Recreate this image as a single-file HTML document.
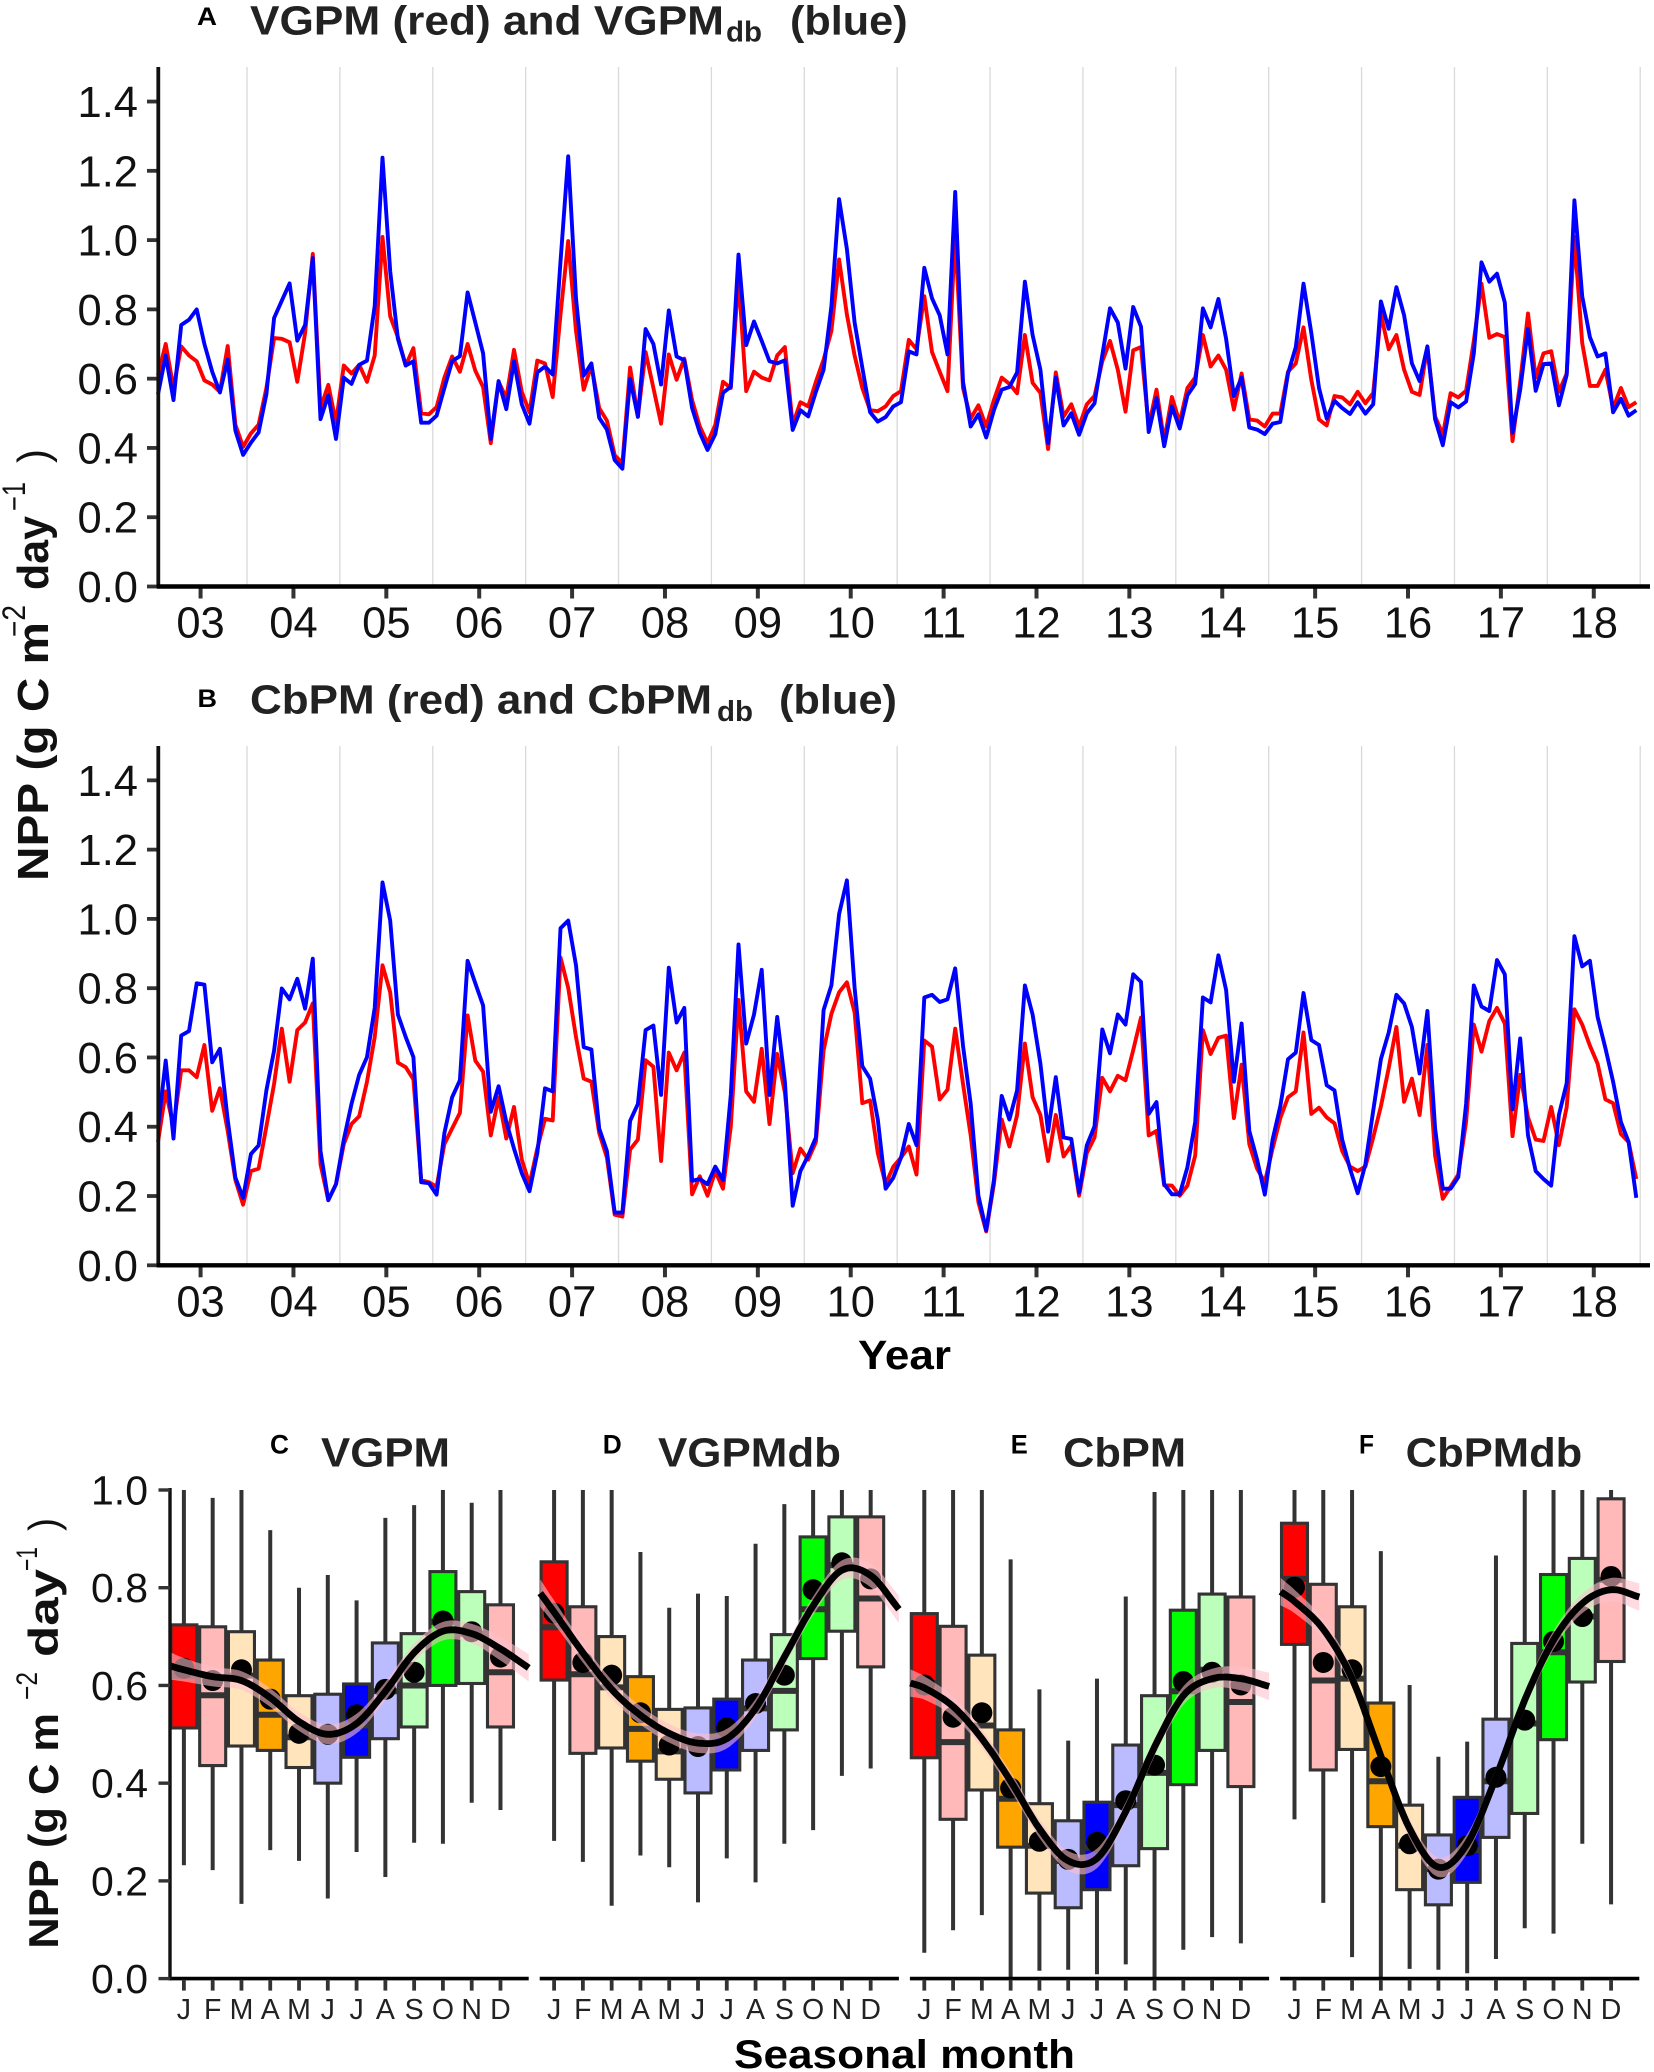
<!DOCTYPE html>
<html lang="en">
<head>
<meta charset="utf-8">
<title>NPP time series and seasonal climatology</title>
<style>
html,body{margin:0;padding:0;background:#fff;}
svg{display:block;font-family:"Liberation Sans",sans-serif;}
.ttl{font-weight:bold;fill:#222;}
.lab{font-weight:bold;fill:#000;}
.ax{font-weight:bold;fill:#111;}
</style>
</head>
<body>
<svg id="chart" xmlns="http://www.w3.org/2000/svg" width="1654" height="2072" viewBox="0 0 1654 2072">
  <rect x="0" y="0" width="1654" height="2072" fill="#fff"/>

  <text class="lab" x="197" y="25" font-size="25" textLength="20" lengthAdjust="spacingAndGlyphs">A</text>
  <text class="ttl" x="250" y="34.7" font-size="41" textLength="474" lengthAdjust="spacingAndGlyphs">VGPM (red) and VGPM</text>
  <text class="ttl" x="726" y="41.6" font-size="29" textLength="36" lengthAdjust="spacingAndGlyphs">db</text>
  <text class="ttl" x="790" y="34.7" font-size="41" textLength="117.6" lengthAdjust="spacingAndGlyphs">(blue)</text>

  <text class="lab" x="197.5" y="707" font-size="25" textLength="19.5" lengthAdjust="spacingAndGlyphs">B</text>
  <text class="ttl" x="250" y="713.5" font-size="41" textLength="462" lengthAdjust="spacingAndGlyphs">CbPM (red) and CbPM</text>
  <text class="ttl" x="717" y="721" font-size="29" textLength="36" lengthAdjust="spacingAndGlyphs">db</text>
  <text class="ttl" x="779" y="713.5" font-size="41" textLength="118" lengthAdjust="spacingAndGlyphs">(blue)</text>

  <g fill="#111">
    <text class="ax" transform="translate(48,881) rotate(-90)" font-size="44" textLength="259" lengthAdjust="spacingAndGlyphs">NPP (g C m</text>
    <text transform="translate(25,637) rotate(-90)" font-size="32" textLength="32" lengthAdjust="spacingAndGlyphs">−2</text>
    <text class="ax" transform="translate(48,590) rotate(-90)" font-size="44" textLength="74" lengthAdjust="spacingAndGlyphs">day</text>
    <text transform="translate(25,511) rotate(-90)" font-size="32" textLength="29" lengthAdjust="spacingAndGlyphs">−1</text>
    <text transform="translate(48,463) rotate(-90)" font-size="44" textLength="14" lengthAdjust="spacingAndGlyphs">)</text>
  </g>
  <text class="lab" x="858" y="1369" font-size="41" textLength="93" lengthAdjust="spacingAndGlyphs">Year</text>

  <text class="lab" x="270" y="1453.6" font-size="27" textLength="19" lengthAdjust="spacingAndGlyphs">C</text>
  <text class="ttl" x="321" y="1466.4" font-size="41" textLength="129" lengthAdjust="spacingAndGlyphs">VGPM</text>
  <text class="lab" x="602.7" y="1453.6" font-size="27" textLength="19" lengthAdjust="spacingAndGlyphs">D</text>
  <text class="ttl" x="658" y="1466.4" font-size="41" textLength="183" lengthAdjust="spacingAndGlyphs">VGPMdb</text>
  <text class="lab" x="1010.7" y="1453.6" font-size="27" textLength="17" lengthAdjust="spacingAndGlyphs">E</text>
  <text class="ttl" x="1063" y="1466.4" font-size="41" textLength="123" lengthAdjust="spacingAndGlyphs">CbPM</text>
  <text class="lab" x="1359" y="1453.6" font-size="27" textLength="15" lengthAdjust="spacingAndGlyphs">F</text>
  <text class="ttl" x="1405.7" y="1466.4" font-size="41" textLength="176.6" lengthAdjust="spacingAndGlyphs">CbPMdb</text>

  <g fill="#111">
    <text class="ax" transform="translate(58,1948.6) rotate(-90)" font-size="42" textLength="235.6" lengthAdjust="spacingAndGlyphs">NPP (g C m</text>
    <text transform="translate(37,1700) rotate(-90)" font-size="30" textLength="28" lengthAdjust="spacingAndGlyphs">−2</text>
    <text class="ax" transform="translate(58,1657) rotate(-90)" font-size="42" textLength="88" lengthAdjust="spacingAndGlyphs">day</text>
    <text transform="translate(37,1571) rotate(-90)" font-size="30" textLength="24" lengthAdjust="spacingAndGlyphs">−1</text>
    <text transform="translate(58,1531) rotate(-90)" font-size="42" textLength="13" lengthAdjust="spacingAndGlyphs">)</text>
  </g>
  <text class="lab" x="734" y="2068" font-size="40" textLength="341" lengthAdjust="spacingAndGlyphs">Seasonal month</text>
</svg>

<script>
const yearLabels = ["03","04","05","06","07","08","09","10","11","12","13","14","15","16","17","18"];
const monthLabels = ["J","F","M","A","M","J","J","A","S","O","N","D"];
const topTickValues = [0,0.2,0.4,0.6,0.8,1.0,1.2,1.4];
const seasonTickValues = [0,0.2,0.4,0.6,0.8,1.0];

const vgpmRed = [
.61,.70,.573,.693,.667,.65,.595,.583,.562,.694,.467,.403,
.442,.467,.573,.717,.715,.705,.591,.732,.96,.515,.582,.473,
.638,.615,.64,.591,.667,1.009,.78,.72,.638,.688,.5,.497,
.518,.603,.664,.62,.70,.623,.576,.414,.591,.544,.683,.562,
.503,.652,.644,.547,.785,.997,.738,.568,.638,.515,.479,.379,
.356,.632,.491,.677,.573,.47,.67,.597,.658,.538,.462,.414,
.467,.591,.573,.891,.564,.62,.603,.595,.667,.691,.467,.532,
.52,.591,.655,.738,.944,.785,.667,.573,.509,.506,.52,.55,
.564,.712,.685,.838,.677,.62,.564,1.02,.573,.485,.523,.462,
.538,.603,.585,.558,.726,.588,.559,.397,.618,.491,.526,.462,
.526,.55,.65,.709,.626,.505,.682,.691,.462,.568,.42,.547,
.473,.573,.603,.726,.635,.667,.626,.511,.615,.482,.479,.462,
.499,.499,.62,.644,.748,.597,.482,.465,.55,.546,.526,.562,
.529,.559,.785,.685,.726,.626,.562,.553,.691,.491,.438,.558,
.546,.565,.709,.874,.718,.729,.72,.42,.591,.788,.603,.673,
.679,.562,.615,1.009,.703,.579,.579,.626,.515,.573,.518,.532];

const vgpmDbBlue = [
.555,.667,.538,.755,.77,.80,.70,.62,.56,.655,.45,.38,
.415,.445,.555,.775,.825,.875,.71,.755,.948,.483,.552,.426,
.603,.585,.64,.652,.81,1.238,.91,.715,.638,.65,.473,.473,
.493,.573,.65,.665,.849,.762,.673,.426,.593,.512,.65,.526,
.47,.618,.635,.612,.938,1.242,.832,.609,.644,.487,.453,.365,
.34,.6,.49,.743,.70,.583,.797,.664,.653,.515,.444,.394,
.44,.559,.577,.958,.697,.765,.709,.65,.644,.653,.452,.509,
.491,.562,.626,.809,1.118,.974,.762,.632,.503,.476,.489,.52,
.532,.679,.67,.92,.832,.783,.67,1.139,.591,.462,.497,.43,
.509,.568,.576,.618,.88,.726,.626,.414,.603,.465,.5,.438,
.5,.529,.668,.803,.762,.629,.807,.75,.446,.544,.405,.52,
.456,.552,.585,.803,.748,.83,.715,.55,.603,.459,.453,.44,
.47,.475,.615,.691,.874,.732,.573,.485,.536,.515,.498,.532,
.499,.526,.823,.744,.864,.783,.644,.593,.693,.483,.408,.532,
.517,.534,.673,.936,.88,.903,.82,.444,.568,.744,.565,.642,
.644,.523,.611,1.115,.838,.72,.664,.673,.503,.542,.493,.509];

const cbpmRed = [
.356,.502,.401,.563,.563,.543,.636,.446,.511,.388,.246,.175,
.272,.279,.401,.524,.683,.53,.679,.701,.756,.292,.188,.234,
.35,.408,.43,.53,.659,.866,.788,.585,.572,.537,.246,.24,
.227,.35,.395,.44,.721,.591,.559,.375,.485,.366,.457,.305,
.234,.337,.423,.418,.889,.801,.659,.539,.53,.382,.311,.146,
.141,.334,.363,.592,.573,.301,.614,.563,.614,.205,.257,.201,
.272,.221,.401,.766,.502,.472,.625,.408,.61,.498,.266,.337,
.305,.356,.621,.726,.788,.817,.73,.468,.476,.324,.234,.285,
.311,.343,.262,.649,.631,.479,.507,.683,.524,.375,.182,.098,
.234,.421,.343,.434,.64,.485,.434,.301,.434,.314,.346,.201,
.324,.369,.541,.502,.547,.534,.621,.715,.375,.388,.231,.23,
.201,.23,.317,.679,.61,.657,.663,.425,.579,.35,.279,.24,
.337,.425,.485,.502,.672,.437,.455,.427,.41,.33,.285,.272,
.285,.369,.459,.569,.688,.472,.539,.434,.636,.317,.192,.227,
.262,.414,.695,.617,.705,.743,.698,.373,.55,.427,.363,.359,
.457,.347,.457,.739,.695,.634,.582,.479,.468,.379,.356,.249];

const cbpmDbBlue = [
.395,.591,.366,.663,.676,.814,.81,.586,.625,.42,.253,.195,
.321,.346,.505,.62,.799,.768,.827,.741,.885,.33,.188,.234,
.363,.466,.55,.601,.743,1.105,.995,.724,.659,.601,.24,.237,
.204,.382,.485,.534,.879,.814,.75,.443,.517,.414,.337,.266,
.214,.324,.511,.502,.973,.995,.866,.63,.623,.395,.33,.152,
.152,.417,.466,.679,.692,.492,.859,.701,.743,.244,.249,.234,
.285,.246,.492,.926,.64,.724,.853,.492,.717,.53,.172,.272,
.317,.369,.737,.808,1.014,1.111,.801,.575,.539,.421,.221,.253,
.311,.408,.347,.773,.781,.76,.768,.857,.634,.466,.201,.101,
.246,.489,.421,.505,.808,.724,.582,.386,.543,.369,.365,.21,
.346,.401,.681,.612,.724,.695,.84,.818,.437,.471,.234,.205,
.205,.283,.414,.773,.759,.895,.795,.53,.698,.388,.305,.204,
.363,.459,.595,.614,.786,.65,.636,.52,.505,.363,.279,.208,
.292,.446,.595,.672,.781,.756,.688,.554,.734,.395,.221,.221,
.255,.466,.808,.747,.734,.881,.84,.45,.655,.375,.272,.249,
.23,.434,.526,.95,.863,.879,.717,.627,.53,.414,.356,.195];

const vgpmWhiskerTop = [1,.984,1,.918,.80,.826,.774,.943,.969,1,.974,1];
const vgpmBoxTop = [.724,.72,.71,.652,.579,.582,.603,.687,.706,.833,.792,.765];
const vgpmMedian = [.62,.58,.62,.54,.494,.50,.518,.588,.60,.73,.706,.627];
const vgpmBoxBottom = [.513,.436,.476,.467,.432,.40,.453,.491,.515,.60,.604,.515];
const vgpmWhiskerBottom = [.232,.222,.153,.263,.241,.164,.259,.208,.278,.276,.36,.345];
const vgpmMean = [.635,.61,.632,.572,.502,.50,.54,.592,.627,.732,.71,.658];
const vgpmSmooth = [.64,.632,.618,.61,.575,.526,.50,.522,.588,.667,.711,.706,.675,.636];

const vgpmDbWhiskerTop = [1,1,1,.873,.759,.788,.783,.89,.971,1,1,1];
const vgpmDbBoxTop = [.853,.761,.70,.618,.551,.554,.572,.652,.704,.904,.945,.945];
const vgpmDbMedian = [.719,.623,.596,.511,.465,.482,.50,.553,.589,.756,.846,.778];
const vgpmDbBoxBottom = [.611,.461,.472,.445,.408,.38,.427,.467,.509,.655,.711,.638];
const vgpmDbWhiskerBottom = [.282,.239,.149,.252,.228,.156,.246,.197,.276,.304,.415,.43];
const vgpmDbMean = [.748,.647,.621,.544,.478,.475,.513,.563,.621,.796,.851,.818];
const vgpmDbSmooth = [.789,.75,.667,.592,.539,.502,.482,.491,.553,.658,.763,.836,.825,.756];

const cbpmWhiskerTop = [1,1,1,.858,.592,.487,.614,.782,.996,1,1,1];
const cbpmBoxTop = [.747,.721,.662,.509,.358,.323,.361,.478,.579,.754,.787,.781];
const cbpmMedian = [.605,.484,.518,.368,.272,.241,.268,.355,.421,.588,.632,.566];
const cbpmBoxBottom = [.452,.326,.386,.269,.175,.145,.182,.231,.266,.397,.467,.393];
const cbpmWhiskerBottom = [.053,.099,.13,0,.016,.018,.009,.029,0,.059,.085,.072];
const cbpmMean = [.601,.535,.544,.39,.281,.244,.279,.364,.437,.608,.627,.601];
const cbpmSmooth = [.605,.595,.557,.491,.404,.307,.241,.246,.342,.474,.579,.614,.614,.598];

const cbpmDbWhiskerTop = [1,1,1,.875,.601,.454,.485,.866,1,1,1,1];
const cbpmDbBoxTop = [.932,.807,.761,.564,.355,.294,.371,.531,.686,.827,.86,.982];
const cbpmDbMedian = [.818,.61,.614,.404,.272,.224,.263,.404,.522,.668,.741,.816];
const cbpmDbBoxBottom = [.684,.427,.469,.311,.182,.151,.197,.289,.338,.489,.607,.649];
const cbpmDbWhiskerBottom = [.326,.155,.044,0,.02,.018,.011,.04,.103,.092,.276,.152];
const cbpmDbMean = [.801,.647,.632,.434,.276,.224,.272,.412,.529,.69,.741,.823];
const cbpmDbSmooth = [.792,.772,.715,.614,.456,.307,.228,.276,.412,.57,.693,.768,.796,.781];

const ribbonHalfWidth = [.028,.024,.02,.019,.019,.019,.02,.02,.019,.019,.019,.02,.024,.028];

const monthFills = ["#ff0000","#ffb9b9","#ffe4bc","#ffa500","#ffe4bc","#bbbbff","#0000ff","#bbbbff","#bbffbb","#00ff00","#bbffbb","#ffb9b9"];

const svg = document.getElementById('chart');
const NS = 'http://www.w3.org/2000/svg';

function make(tag, attrs, parent) {
  const node = document.createElementNS(NS, tag);
  for (const k in attrs) node.setAttribute(k, attrs[k]);
  parent.appendChild(node);
  return node;
}

/* --- Axis functions for the two time-series panels --- */
const xMonth = i => 158 + 7.74 * i;
const xYearTick = k => xMonth(5.5 + 12 * k);
const xYearGrid = k => xMonth(11.5 + 12 * k);
const yTop = (base, v) => base - v * 346.4;

function drawSeriesPanel(name, base, top, red, blue) {
  const g = make('g', {}, svg);
  
  

  yearLabels.forEach((label, k) => {
    const grid = make('line', {x1: xYearGrid(k), x2: xYearGrid(k), y1: top, y2: base, stroke: '#d9d9d9', 'stroke-width': 1.3}, g);
    
    
  });

  const redPts = red.map((v, i) => xMonth(i).toFixed(1) + ',' + yTop(base, v).toFixed(1)).join(' ');
  const redLine = make('polyline', {points: redPts, fill: 'none', stroke: '#ff0000', 'stroke-width': 3.9, 'stroke-linejoin': 'round'}, g);
  
  

  const bluePts = blue.map((v, i) => xMonth(i).toFixed(1) + ',' + yTop(base, v).toFixed(1)).join(' ');
  const blueLine = make('polyline', {points: bluePts, fill: 'none', stroke: '#0000ff', 'stroke-width': 3.9, 'stroke-linejoin': 'round'}, g);
  
  

  topTickValues.forEach(v => {
    const y = yTop(base, v);
    const tick = make('line', {x1: 147, x2: 158, y1: y, y2: y, stroke: '#333', 'stroke-width': 3.8}, g);
    
    
    const t = make('text', {x: 138, y: y + 15.5, 'font-size': 43.5, 'text-anchor': 'end', fill: '#111'}, g);
    t.textContent = v.toFixed(1);
    
    
  });

  yearLabels.forEach((label, k) => {
    const x = xYearTick(k);
    const tick = make('line', {x1: x, x2: x, y1: base, y2: base + 12, stroke: '#333', 'stroke-width': 4}, g);
    
    
    const t = make('text', {x: x, y: base + 51, 'font-size': 43.5, 'text-anchor': 'middle', fill: '#111'}, g);
    t.textContent = label;
    
    
  });

  const yAxis = make('line', {x1: 158.3, x2: 158.3, y1: top, y2: base + 2, stroke: '#111', 'stroke-width': 3.8}, g);
  
  
  const xAxis = make('line', {x1: 157, x2: 1650, y1: base, y2: base, stroke: '#000', 'stroke-width': 4.4}, g);
  
  
}

drawSeriesPanel('vgpm-time-series-panel', 586.5, 67, vgpmRed, vgpmDbBlue);
drawSeriesPanel('cbpm-time-series-panel', 1265.3, 746, cbpmRed, cbpmDbBlue);

/* --- Axis functions for the seasonal panels --- */
const BAND = 28.78;
const panelLeft = p => 170 + p * 370.2;
const xBand = (p, i) => panelLeft(p) + 13.9 + i * BAND;
const ySeason = v => 1978.6 - v * 488.6;
const smoothX = (p, k) => k === 0 ? panelLeft(p) : (k === 13 ? panelLeft(p) + 358.7 : xBand(p, k - 1));

function sampleSmooth(xs, ys) {
  const out = [];
  const n = xs.length;
  const tan = ys.map((_, i) => {
    const a = Math.max(i - 1, 0), b = Math.min(i + 1, n - 1);
    return (ys[b] - ys[a]) / (xs[b] - xs[a]);
  });
  for (let i = 0; i < n - 1; i++) {
    const h = xs[i + 1] - xs[i];
    for (let s = 0; s < 10; s++) {
      const t = s / 10, t2 = t * t, t3 = t2 * t;
      out.push([xs[i] + h * t,
        (2*t3 - 3*t2 + 1) * ys[i] + (t3 - 2*t2 + t) * h * tan[i] +
        (-2*t3 + 3*t2) * ys[i + 1] + (t3 - t2) * h * tan[i + 1]]);
    }
  }
  out.push([xs[n - 1], ys[n - 1]]);
  return out;
}

function drawSeasonPanel(p, name, wTop, bTop, med, bBot, wBot, mean, smooth) {
  const g = make('g', {}, svg);
  
  

  monthLabels.forEach((label, i) => {
    const x = xBand(p, i);
    const whisker = make('line', {x1: x, x2: x, y1: ySeason(wTop[i]), y2: ySeason(wBot[i]), stroke: '#333', 'stroke-width': 4}, g);
    
    
  });

  monthLabels.forEach((label, i) => {
    const x = xBand(p, i);
    const box = make('rect', {x: x - 13, y: ySeason(bTop[i]), width: 26, height: ySeason(bBot[i]) - ySeason(bTop[i]), fill: monthFills[i], stroke: '#333', 'stroke-width': 3.1}, g);
    
    
    const m = make('line', {x1: x - 13, x2: x + 13, y1: ySeason(med[i]), y2: ySeason(med[i]), stroke: '#333', 'stroke-width': 6}, g);
    
    
  });

  monthLabels.forEach((label, i) => {
    const dot = make('circle', {cx: xBand(p, i), cy: ySeason(mean[i]), r: 10.5, fill: '#000'}, g);
    
    
  });

  const xs = smooth.map((_, k) => smoothX(p, k));
  const centre = sampleSmooth(xs, smooth);
  const upper = sampleSmooth(xs, smooth.map((v, k) => v + ribbonHalfWidth[k]));
  const lower = sampleSmooth(xs, smooth.map((v, k) => v - ribbonHalfWidth[k]));
  const ribbonPts = upper.concat(lower.slice().reverse())
    .map(q => q[0].toFixed(1) + ',' + ySeason(q[1]).toFixed(1)).join(' ');
  const ribbon = make('polygon', {points: ribbonPts, fill: '#ffc0cb', 'fill-opacity': 0.58}, g);
  
  

  const linePts = centre.map(q => q[0].toFixed(1) + ',' + ySeason(q[1]).toFixed(1)).join(' ');
  const curve = make('polyline', {points: linePts, fill: 'none', stroke: '#000', 'stroke-width': 6.8}, g);
  
  

  const xAxis = make('line', {x1: panelLeft(p) - 0.5, x2: panelLeft(p) + 358.7, y1: ySeason(0), y2: ySeason(0), stroke: '#000', 'stroke-width': 3.6}, g);
  
  

  monthLabels.forEach((label, i) => {
    const x = xBand(p, i);
    const tick = make('line', {x1: x, x2: x, y1: ySeason(0) + 1, y2: ySeason(0) + 12, stroke: '#333', 'stroke-width': 3.8}, g);
    
    
    const t = make('text', {x: x, y: 2019, 'font-size': 28.5, 'text-anchor': 'middle', fill: '#222'}, g);
    t.textContent = label;
    
    
  });
}

drawSeasonPanel(0, 'vgpm-seasonal-panel', vgpmWhiskerTop, vgpmBoxTop, vgpmMedian, vgpmBoxBottom, vgpmWhiskerBottom, vgpmMean, vgpmSmooth);
drawSeasonPanel(1, 'vgpm-db-seasonal-panel', vgpmDbWhiskerTop, vgpmDbBoxTop, vgpmDbMedian, vgpmDbBoxBottom, vgpmDbWhiskerBottom, vgpmDbMean, vgpmDbSmooth);
drawSeasonPanel(2, 'cbpm-seasonal-panel', cbpmWhiskerTop, cbpmBoxTop, cbpmMedian, cbpmBoxBottom, cbpmWhiskerBottom, cbpmMean, cbpmSmooth);
drawSeasonPanel(3, 'cbpm-db-seasonal-panel', cbpmDbWhiskerTop, cbpmDbBoxTop, cbpmDbMedian, cbpmDbBoxBottom, cbpmDbWhiskerBottom, cbpmDbMean, cbpmDbSmooth);

/* --- Shared y axis of the seasonal row --- */
const seasonAxis = make('g', {}, svg);


const seasonAxisLine = make('line', {x1: 170, x2: 170, y1: ySeason(1) - 2, y2: ySeason(0) + 1.8, stroke: '#111', 'stroke-width': 3.4}, seasonAxis);


seasonTickValues.forEach(v => {
  const y = ySeason(v);
  const tick = make('line', {x1: 158.5, x2: 170, y1: y, y2: y, stroke: '#333', 'stroke-width': 3.4}, seasonAxis);
  
  
  const t = make('text', {x: 148, y: y + 14.5, 'font-size': 41, 'text-anchor': 'end', fill: '#111'}, seasonAxis);
  t.textContent = v.toFixed(1);
  
  
});
</script>
</body>
</html>
